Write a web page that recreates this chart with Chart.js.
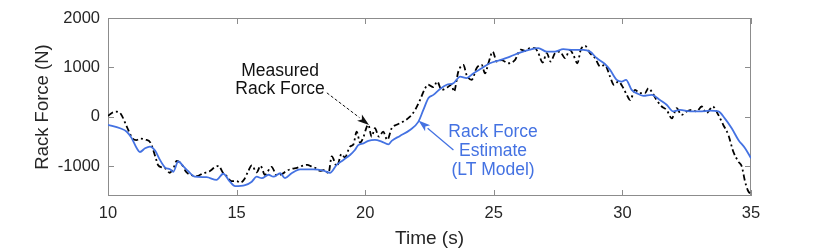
<!DOCTYPE html>
<html>
<head>
<meta charset="utf-8">
<script src="https://cdn.jsdelivr.net/npm/chart.js@4"></script>
<style>
html,body{margin:0;padding:0;background:#fff;}
#wrap{width:830px;height:250px;}
canvas{display:block;}
</style>
</head>
<body>
<div id="wrap"><canvas id="c" width="830" height="250"></canvas></div>
<script>
// ---- data ----
const timeMeasured = [10.0,10.15,10.35,10.5,10.73,10.95,11.1,11.25,11.45,11.65,11.85,11.95,12.1,12.25,12.4,12.55,12.67,12.85,13.05,13.25,13.45,13.7,13.95,14.15,14.3,14.47,14.6,14.8,15.0,15.15,15.3,15.45,15.59,15.78,15.93,16.1,16.36,16.56,16.75,16.95,17.15,17.35,17.55,17.75,17.9,18.05,18.24,18.44,18.57,18.7,18.9,19.08,19.21,19.41,19.54,19.67,19.8,19.93,20.06,20.12,20.25,20.38,20.53,20.7,20.86,21.03,21.22,21.48,21.74,21.94,22.13,22.33,22.45,22.65,22.8,22.97,23.2,23.36,23.45,23.62,23.82,23.94,24.14,24.33,24.53,24.66,24.79,24.96,25.11,25.3,25.56,25.82,26.05,26.25,26.4,26.6,26.73,26.9,27.06,27.21,27.38,27.57,27.77,27.96,28.09,28.25,28.38,28.55,28.74,28.94,29.13,29.32,29.52,29.67,29.84,30.04,30.17,30.3,30.49,30.68,30.88,31.01,31.14,31.33,31.53,31.72,31.92,32.11,32.3,32.5,32.69,32.89,33.08,33.27,33.51,33.73,33.92,34.12,34.31,34.51,34.64,34.77,34.9,35.0];
const forceMeasured = [20,80,105,60,-195,-430,-470,-440,-460,-520,-820,-980,-1020,-1050,-1130,-1030,-890,-950,-1120,-1180,-1200,-1140,-1100,-1020,-990,-1130,-1190,-1300,-1300,-1330,-1260,-1100,-980,-1120,-990,-1170,-1010,-1180,-1160,-1090,-1050,-1030,-990,-970,-1000,-1030,-1090,-1070,-1140,-800,-1000,-750,-820,-600,-560,-300,-520,-410,-200,-160,-400,-230,-400,-300,-465,-230,-160,-95,5,140,340,580,650,600,715,545,600,650,510,915,1050,850,750,985,1050,880,1085,1320,1120,1150,1085,1150,1360,1330,1390,1390,1290,1100,1290,1120,1290,1320,1190,1355,1255,1085,1355,1435,1290,1190,1020,1050,815,650,715,580,445,340,545,480,480,580,510,340,210,140,-30,175,40,110,140,110,210,75,210,40,-160,-365,-700,-905,-1000,-1310,-1510,-1550];

const timeEstimate = [10.0,10.47,10.73,10.92,11.12,11.24,11.44,11.63,11.83,12.02,12.21,12.41,12.54,12.73,12.93,13.12,13.38,13.83,14.22,14.48,14.74,14.94,15.33,15.59,15.78,15.98,16.24,16.43,16.7,16.88,17.14,17.47,17.98,18.37,18.63,18.89,19.15,19.41,19.6,19.73,19.93,20.12,20.38,20.64,20.9,21.03,21.35,21.74,22.07,22.26,22.46,22.65,22.9,23.17,23.43,23.69,23.94,24.2,24.53,24.85,25.24,25.63,26.02,26.4,26.73,27.06,27.38,27.7,28.09,28.48,28.74,29.0,29.32,29.52,29.78,29.97,30.14,30.36,30.55,30.81,31.14,31.46,31.72,31.98,32.24,32.63,33.0,33.4,33.73,33.98,34.25,34.51,34.77,35.0];
const forceEstimate = [-160,-230,-300,-430,-635,-710,-635,-600,-680,-870,-1020,-1060,-1110,-900,-1000,-1100,-1210,-1220,-1275,-1150,-1310,-1400,-1380,-1310,-1210,-1240,-1170,-1210,-1140,-1240,-1140,-1060,-1060,-1085,-1130,-970,-870,-770,-670,-570,-535,-485,-465,-500,-555,-485,-385,-265,-95,140,380,445,560,650,680,815,785,880,985,1085,1150,1220,1300,1360,1390,1320,1320,1370,1355,1355,1320,1190,1070,950,750,715,750,545,480,425,445,340,245,110,140,110,110,125,110,-30,-230,-465,-635,-835];

const xTickValues = [10,15,20,25,30,35];
const yTickValues = [-1000,0,1000,2000];
const xRange = [10,35];
const yRange = [-1600,2000];
const xTitle = 'Time (s)';
const yTitle = 'Rack Force (N)';
const measuredLabel = ['Measured','Rack Force'];
const estimateLabel = ['Rack Force','Estimate','(LT Model)'];

// annotation anchors (data coordinates)
const measuredTextAt = {x:16.69, y:[930,567]};
const measuredArrow = {from:[18.51,486], to:[20.15,-162]};
const estimateTextAt = {x:24.97, y:[-304,-688,-1073]};
const estimateArrow = {from:[23.43,-668], to:[22.07,-75]};

const FONT = "'Liberation Sans', Arial, Helvetica, sans-serif";
const BLUE = '#4472E2';
const AXIS = '#8c8c8c';
const TXT = '#262626';

function pts(xs, ys){ return xs.map((t,i)=>({x:t,y:ys[i]})); }

function arrow(ctx, x1,y1,x2,y2,color,width,dash,headLen,headW){
  const ang = Math.atan2(y2-y1,x2-x1);
  const bx = x2 - headLen*Math.cos(ang), by = y2 - headLen*Math.sin(ang);
  ctx.save();
  ctx.strokeStyle = color; ctx.fillStyle = color; ctx.lineWidth = width;
  ctx.setLineDash(dash);
  ctx.beginPath(); ctx.moveTo(x1,y1); ctx.lineTo(bx,by); ctx.stroke();
  ctx.setLineDash([]);
  const nx = -Math.sin(ang), ny = Math.cos(ang);
  ctx.beginPath();
  ctx.moveTo(x2,y2);
  ctx.lineTo(bx + nx*headW/2, by + ny*headW/2);
  ctx.lineTo(bx + Math.cos(ang)*headLen*0.25, by + Math.sin(ang)*headLen*0.25);
  ctx.lineTo(bx - nx*headW/2, by - ny*headW/2);
  ctx.closePath(); ctx.fill();
  ctx.restore();
}

const framePlugin = {
  id:'frame',
  beforeDatasetsDraw(chart){
    const {ctx, chartArea:a, scales:{x,y}} = chart;
    ctx.save();
    ctx.strokeStyle = AXIS; ctx.lineWidth = 1;
    ctx.strokeRect(Math.round(a.left)+0.5, Math.round(a.top)+0.5, Math.round(a.width)-1, Math.round(a.height)-1);
    const L = 6;
    ctx.beginPath();
    x.ticks.forEach(t=>{
      const px = Math.round(x.getPixelForValue(t.value))+0.5;
      ctx.moveTo(px,a.bottom); ctx.lineTo(px,a.bottom-L);
      ctx.moveTo(px,a.top); ctx.lineTo(px,a.top+L);
    });
    y.ticks.forEach(t=>{
      const py = Math.round(y.getPixelForValue(t.value))+0.5;
      ctx.moveTo(a.left,py); ctx.lineTo(a.left+L,py);
      ctx.moveTo(a.right,py); ctx.lineTo(a.right-L,py);
    });
    ctx.stroke();
    ctx.restore();
  },
  afterDraw(chart){
    const {ctx, scales:{x,y}} = chart;
    ctx.save();
    ctx.font = '17.5px ' + FONT;
    ctx.textAlign = 'center'; ctx.textBaseline = 'middle';
    ctx.fillStyle = '#111';
    measuredLabel.forEach((s,i)=>ctx.fillText(s, x.getPixelForValue(measuredTextAt.x), y.getPixelForValue(measuredTextAt.y[i])));
    ctx.fillStyle = BLUE;
    estimateLabel.forEach((s,i)=>ctx.fillText(s, x.getPixelForValue(estimateTextAt.x), y.getPixelForValue(estimateTextAt.y[i])));
    ctx.restore();
    arrow(ctx, x.getPixelForValue(measuredArrow.from[0]), y.getPixelForValue(measuredArrow.from[1]),
          x.getPixelForValue(measuredArrow.to[0]), y.getPixelForValue(measuredArrow.to[1]), '#111', 1, [3,2], 12, 8);
    arrow(ctx, x.getPixelForValue(estimateArrow.from[0]), y.getPixelForValue(estimateArrow.from[1]),
          x.getPixelForValue(estimateArrow.to[0]), y.getPixelForValue(estimateArrow.to[1]), BLUE, 1.3, [], 12, 8);
  }
};

new Chart(document.getElementById('c'), {
  type:'line',
  data:{
    datasets:[
      {label:'Rack Force Estimate (LT Model)', data:pts(timeEstimate, forceEstimate), borderColor:BLUE, borderWidth:1.8,
       pointRadius:0, cubicInterpolationMode:'monotone', fill:false},
      {label:'Measured Rack Force', data:pts(timeMeasured, forceMeasured), borderColor:'#000', borderWidth:1.8,
       borderDash:[6,3,2,3], pointRadius:0, cubicInterpolationMode:'monotone', fill:false}
    ]
  },
  options:{
    responsive:false, animation:false, devicePixelRatio:1,
    layout:{padding:{top:18, right:79, left:0, bottom:0}},
    plugins:{legend:{display:false}, tooltip:{enabled:false}},
    scales:{
      x:{type:'linear', min:xRange[0], max:xRange[1],
         grid:{display:false, drawTicks:false}, border:{display:false},
         afterBuildTicks(s){ s.ticks = xTickValues.map(v=>({value:v})); },
         afterFit(s){ s.height = 54; },
         ticks:{padding:8, color:TXT, font:{family:FONT, size:16.5}, maxRotation:0, callback:v=>String(v)},
         title:{display:true, text:xTitle, color:TXT, font:{family:FONT, size:19}, padding:{top:0,bottom:0}}
      },
      y:{type:'linear', min:yRange[0], max:yRange[1],
         grid:{display:false, drawTicks:false}, border:{display:false},
         afterBuildTicks(s){ s.ticks = yTickValues.map(v=>({value:v})); },
         afterFit(s){ s.width = 108; },
         ticks:{padding:8, color:TXT, font:{family:FONT, size:16.5}, callback:v=>String(v)},
         title:{display:true, text:yTitle, color:TXT, font:{family:FONT, size:18.5}, padding:{top:32,bottom:0}}
      }
    }
  },
  plugins:[framePlugin]
});
</script>
</body>
</html>
